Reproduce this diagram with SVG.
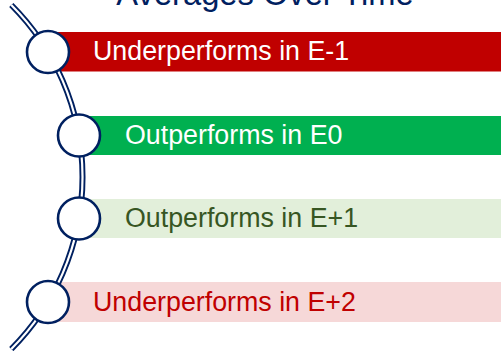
<svg xmlns="http://www.w3.org/2000/svg" width="501" height="351" viewBox="0 0 501 351">
<style>
.lbl{font-family:"Liberation Sans",Arial,sans-serif;font-size:26.8px}
.node circle{fill:#fff;stroke:#002060;stroke-width:2.6}
.track-o{fill:none;stroke:#002060;stroke-width:6}
.track-i{fill:none;stroke:#fff;stroke-width:2.2}
</style>
<rect width="501" height="351" fill="#fff"/>
<text x="265" y="5" text-anchor="middle" font-family="Liberation Sans, Arial, sans-serif" font-size="32.7" fill="#002060">Averages Over Time</text>
<g id="bars">
<rect x="48" y="32" width="453" height="39.5" fill="#C00000"/>
<rect x="79" y="116" width="422" height="39" fill="#00B050"/>
<rect x="79" y="199" width="422" height="39" fill="#E2EFDA"/>
<rect x="48" y="282" width="453" height="40" fill="#F6D8D8"/>
</g>
<g id="connectors">
<path class="track-o" d="M 11.3 5 A 243.3 243.3 0 0 1 11.3 349"/>
<path class="track-i" d="M 11.3 5 A 243.3 243.3 0 0 1 11.3 349"/>
</g>
<g id="node1" class="node">
<circle cx="48" cy="52" r="21"/>
<text class="lbl" x="93" y="60" fill="#fff">Underperforms in E-1</text>
</g>
<g id="node2" class="node">
<circle cx="79" cy="135.5" r="21"/>
<text class="lbl" x="125" y="143.5" fill="#fff">Outperforms in E0</text>
</g>
<g id="node3" class="node">
<circle cx="79" cy="218.5" r="21"/>
<text class="lbl" x="125" y="227" fill="#375623">Outperforms in E+1</text>
</g>
<g id="node4" class="node">
<circle cx="48" cy="302" r="21"/>
<text class="lbl" x="93" y="310.5" fill="#C00000">Underperforms in E+2</text>
</g>
</svg>
